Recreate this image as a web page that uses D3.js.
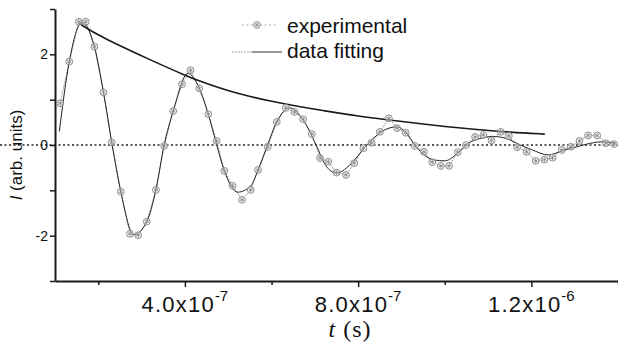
<!DOCTYPE html>
<html>
<head>
<meta charset="utf-8">
<script src="https://cdn.jsdelivr.net/npm/d3@7"></script>
<style>
  body { margin: 0; background: #fff; }
  svg { display: block; }
  .sans { font-family: "Liberation Sans", Arial, sans-serif; fill: #111; }
  .serif { font-family: "Liberation Serif", "Times New Roman", serif; fill: #111; }
</style>
</head>
<body>
<svg id="chart" width="618" height="349"></svg>
<script>
// experimental points, t in s, I in arb. units
const tExp = [1.12e-7, 1.33e-7, 1.55e-7, 1.71e-7, 1.91e-7, 2.12e-7, 2.31e-7, 2.52e-7, 2.73e-7, 2.92e-7,
  3.12e-7, 3.33e-7, 3.52e-7, 3.73e-7, 3.93e-7, 4.13e-7, 4.33e-7, 4.54e-7, 4.73e-7, 4.91e-7,
  5.10e-7, 5.32e-7, 5.52e-7, 5.69e-7, 5.91e-7, 6.12e-7, 6.33e-7, 6.53e-7, 6.73e-7, 6.93e-7,
  7.12e-7, 7.31e-7, 7.50e-7, 7.72e-7, 7.91e-7, 8.12e-7, 8.31e-7, 8.50e-7, 8.71e-7, 8.90e-7,
  9.10e-7, 9.31e-7, 9.52e-7, 9.71e-7, 9.91e-7, 10.10e-7, 10.30e-7, 10.49e-7, 10.70e-7, 10.89e-7,
  11.08e-7, 11.29e-7, 11.48e-7, 11.67e-7, 11.89e-7, 12.10e-7, 12.30e-7, 12.49e-7, 12.70e-7, 12.91e-7,
  13.11e-7, 13.31e-7, 13.52e-7, 13.72e-7, 13.91e-7];
const iExp = [0.92, 1.84, 2.72, 2.72, 2.17, 1.16, 0.06, -1.03, -1.96, -1.99,
  -1.69, -0.99, -0.02, 0.75, 1.34, 1.65, 1.25, 0.68, 0.09, -0.57,
  -0.90, -1.21, -0.99, -0.55, -0.04, 0.51, 0.82, 0.73, 0.57, 0.24,
  -0.29, -0.37, -0.61, -0.66, -0.40, -0.07, 0.05, 0.29, 0.59, 0.37,
  0.27, -0.02, -0.15, -0.38, -0.46, -0.46, -0.16, 0.00, 0.18, 0.22,
  0.10, 0.29, 0.20, -0.05, -0.15, -0.35, -0.32, -0.28, -0.11, -0.04,
  0.09, 0.21, 0.21, 0.04, 0.02];

// fitted damped oscillation
const tFit = [1.10e-7, 1.33e-7, 1.62e-7, 1.91e-7, 2.12e-7, 2.32e-7, 2.52e-7, 2.82e-7, 3.12e-7, 3.33e-7,
  3.52e-7, 3.73e-7, 4.07e-7, 4.33e-7, 4.54e-7, 4.72e-7, 4.91e-7, 5.22e-7, 5.52e-7, 5.69e-7,
  5.90e-7, 6.12e-7, 6.43e-7, 6.73e-7, 7.03e-7, 7.25e-7, 7.50e-7, 7.80e-7, 8.20e-7, 8.55e-7,
  8.89e-7, 9.10e-7, 9.31e-7, 9.50e-7, 9.75e-7, 10.0e-7, 10.3e-7, 10.55e-7, 10.85e-7, 11.1e-7,
  11.4e-7, 11.75e-7, 12.0e-7, 12.4e-7, 12.7e-7, 13.05e-7, 13.43e-7, 13.62e-7, 13.95e-7];
const iFit = [0.30, 1.84, 2.70, 2.17, 1.16, 0.00, -1.03, -1.98, -1.69, -0.99,
  0.00, 0.75, 1.58, 1.25, 0.68, 0.05, -0.57, -1.04, -0.90, -0.55,
  -0.02, 0.51, 0.82, 0.55, 0.00, -0.45, -0.62, -0.45, 0.00, 0.30,
  0.40, 0.28, 0.00, -0.20, -0.33, -0.35, -0.18, 0.04, 0.15, 0.19,
  0.15, 0.00, -0.10, -0.22, -0.13, -0.04, 0.05, 0.07, 0.05];

// decay envelope
const tEnv = [1.56e-7, 2.04e-7, 3.19e-7, 4.04e-7, 4.42e-7, 5.20e-7, 5.96e-7, 6.66e-7,
  7.19e-7, 7.97e-7, 8.73e-7, 9.43e-7, 9.97e-7, 10.74e-7, 11.51e-7, 12.31e-7];
const iEnv = [2.68, 2.39, 1.88, 1.52, 1.38, 1.13, 0.97, 0.84,
  0.76, 0.64, 0.55, 0.47, 0.41, 0.34, 0.28, 0.24];

const xMajor = [4e-7, 8e-7, 1.2e-6];
const xMajorBase = ["4.0x10", "8.0x10", "1.2x10"];
const xMajorExp = ["-7", "-7", "-6"];
const xMinor = [2e-7, 6e-7, 1e-6, 1.4e-6];
const yTicks = [-3, -2, -1, 0, 1, 2, 3];
const yLabelled = [-2, 0, 2];

const svg = d3.select("#chart");
const x = d3.scaleLinear().domain([1e-7, 1.4e-6]).range([55, 618]);
const y = d3.scaleLinear().domain([-3, 3]).range([281, 9]);

// zero reference line, dotted across the whole picture
svg.append("line")
  .attr("x1", 0).attr("x2", 618)
  .attr("y1", y(0)).attr("y2", y(0))
  .attr("stroke", "#222").attr("stroke-width", 1.3)
  .attr("stroke-dasharray", "2,2.5");

// axes
const xAxis = svg.append("g").attr("transform", `translate(0,${y(-3)})`)
  .call(d3.axisBottom(x).tickValues(xMajor).tickSize(6).tickSizeOuter(0).tickFormat(""));
xAxis.select(".domain").attr("stroke", "#1a1a1a").attr("stroke-width", 2);
xAxis.selectAll(".tick line").attr("stroke", "#1a1a1a").attr("stroke-width", 1.5);

const xMinorAxis = svg.append("g").attr("transform", `translate(0,${y(-3)})`)
  .call(d3.axisBottom(x).tickValues(xMinor).tickSize(4).tickSizeOuter(0).tickFormat(""));
xMinorAxis.select(".domain").remove();
xMinorAxis.selectAll(".tick line").attr("stroke", "#1a1a1a").attr("stroke-width", 1.5);

const yAxis = svg.append("g").attr("transform", `translate(${x(1e-7)},0)`)
  .call(d3.axisLeft(y).tickValues(yTicks).tickSize(5).tickSizeOuter(0).tickPadding(2)
    .tickFormat(d => yLabelled.includes(d) ? String(d) : ""));
yAxis.select(".domain").attr("stroke", "#1a1a1a").attr("stroke-width", 2);
yAxis.selectAll(".tick line").attr("stroke", "#1a1a1a").attr("stroke-width", 1.5);
yAxis.selectAll(".tick text").attr("class", "sans").style("font-size", "14px");

// x tick labels with powers of ten
xMajor.forEach((v, i) => {
  const t = svg.append("text").attr("class", "sans")
    .attr("x", x(v)).attr("y", 312)
    .attr("text-anchor", "middle")
    .style("font-size", "22px").style("letter-spacing", "1.2px");
  t.append("tspan").text(xMajorBase[i]);
  t.append("tspan").attr("dy", -11).style("font-size", "15px").style("letter-spacing", "0px").text(xMajorExp[i]);
});

// axis titles
const xt = svg.append("text").attr("class", "serif")
  .attr("x", 350).attr("y", 337).attr("text-anchor", "middle")
  .style("font-size", "24px").style("letter-spacing", "1px");
xt.append("tspan").style("font-style", "italic").text("t");
xt.append("tspan").text(" (s)");

const yt = svg.append("text").attr("class", "sans")
  .attr("transform", "translate(22,155) rotate(-90)")
  .attr("text-anchor", "middle").style("font-size", "17px");
yt.append("tspan").style("font-style", "italic").text("I");
yt.append("tspan").text(" (arb. units)");

// experimental data
const expPts = tExp.map((t, i) => [t, iExp[i]]);
const fitPts = tFit.map((t, i) => [t, iFit[i]]);
const envPts = tEnv.map((t, i) => [t, iEnv[i]]);

svg.append("path")
  .attr("d", d3.line().x(d => x(d[0])).y(d => y(d[1]))(expPts))
  .attr("fill", "none").attr("stroke", "#9a9a9a").attr("stroke-width", 1)
  .attr("stroke-dasharray", "2,1");

svg.append("path")
  .attr("d", d3.line().x(d => x(d[0])).y(d => y(d[1])).curve(d3.curveMonotoneX)(fitPts))
  .attr("fill", "none").attr("stroke", "#222").attr("stroke-width", 1);

svg.append("path")
  .attr("d", d3.line().x(d => x(d[0])).y(d => y(d[1])).curve(d3.curveBasis)(envPts))
  .attr("fill", "none").attr("stroke", "#1a1a1a").attr("stroke-width", 1.6);

const star = d3.symbol().type(d3.symbolAsterisk).size(18);
function marker(g) {
  g.append("circle").attr("r", 3.4).attr("fill", "#fff").attr("fill-opacity", 0.4)
    .attr("stroke", "#8c8c8c").attr("stroke-width", 1);
  g.append("path").attr("d", star()).attr("fill", "none")
    .attr("stroke", "#8c8c8c").attr("stroke-width", 0.9);
}

svg.append("g").selectAll("g")
  .data(expPts).join("g")
  .attr("transform", d => `translate(${x(d[0])},${y(d[1])})`)
  .each(function () { marker(d3.select(this)); });

// legend
const lg = svg.append("g");
lg.append("line").attr("x1", 242).attr("x2", 278).attr("y1", 25).attr("y2", 25)
  .attr("stroke", "#aaa").attr("stroke-width", 1).attr("stroke-dasharray", "2,2.5");
marker(lg.append("g").attr("transform", "translate(257,25)"));
lg.append("text").attr("class", "sans").attr("x", 287).attr("y", 33)
  .style("font-size", "21px").text("experimental");

lg.append("line").attr("x1", 232).attr("x2", 252).attr("y1", 52).attr("y2", 52)
  .attr("stroke", "#aaa").attr("stroke-width", 1).attr("stroke-dasharray", "2,1");
lg.append("line").attr("x1", 252).attr("x2", 282).attr("y1", 52).attr("y2", 52)
  .attr("stroke", "#333").attr("stroke-width", 1);
lg.append("text").attr("class", "sans").attr("x", 287).attr("y", 58)
  .style("font-size", "21px").text("data fitting");
</script>
</body>
</html>
